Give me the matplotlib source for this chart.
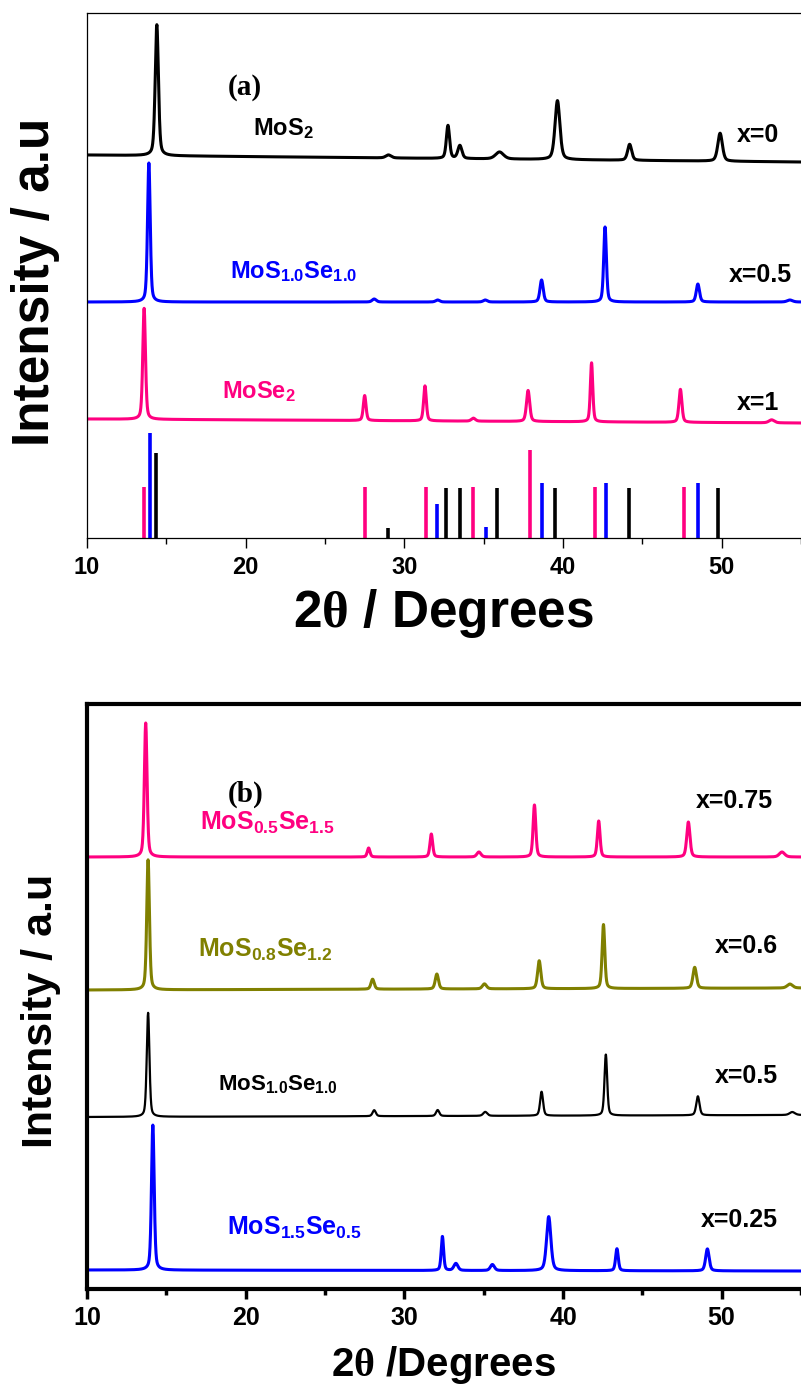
import matplotlib
matplotlib.use("Agg")
import matplotlib.pyplot as plt
import numpy as np
from matplotlib.ticker import MultipleLocator

plt.rcParams['font.family'] = ['Liberation Sans', 'DejaVu Sans']
plt.rcParams['font.weight'] = 'bold'
plt.rcParams['axes.labelweight'] = 'bold'
plt.rcParams['mathtext.fontset'] = 'custom'
plt.rcParams['mathtext.rm'] = 'Liberation Serif'
plt.rcParams['mathtext.bf'] = 'Liberation Sans:bold'
plt.rcParams['mathtext.it'] = 'Liberation Sans:italic:bold'

PINK = '#FF0080'
BLUE = '#0000FF'
OLIVE = '#808000'
BLACK = '#000000'

# ---- panel (a): measured patterns, (position, height, half width) ----
a_mos2_base = [383, 376]
a_mos2_peaks = [(14.4, 131, 0.12), (29.0, 3, 0.2), (32.75, 33, 0.12), (33.5, 13, 0.15),
                (36.0, 7, 0.3), (39.65, 59, 0.18), (44.2, 16, 0.15), (49.9, 28, 0.17)]
a_mosse_base = [236, 236]
a_mosse_peaks = [(13.9, 139, 0.1), (28.1, 3, 0.15), (32.1, 2, 0.15), (35.1, 2, 0.15),
                 (38.65, 22, 0.12), (42.65, 75, 0.1), (48.5, 18, 0.12), (54.3, 2, 0.2)]
a_mose2_base = [119, 115]
a_mose2_peaks = [(13.6, 111, 0.1), (27.5, 25, 0.1), (31.3, 35, 0.1), (34.35, 3, 0.15),
                 (37.8, 31, 0.12), (41.8, 59, 0.09), (47.4, 33, 0.11), (53.15, 3, 0.2)]

# reference stick patterns: positions and heights
ref_mose2_pos = [13.6, 27.5, 31.35, 34.3, 37.95, 42.0, 47.6]
ref_mose2_h = [51, 51, 51, 51, 88, 51, 51]
ref_mosse_pos = [14.0, 32.05, 35.15, 38.7, 42.7, 48.5]
ref_mosse_h = [105, 34, 11, 55, 55, 55]
ref_mos2_pos = [14.35, 29.0, 32.65, 33.5, 35.85, 39.5, 44.15, 49.8]
ref_mos2_h = [85, 10, 50, 50, 50, 50, 50, 50]

# ---- panel (b) ----
b_075_base = [432, 432]
b_075_peaks = [(13.7, 134, 0.1), (27.75, 9, 0.1), (31.7, 23, 0.1), (34.7, 5, 0.15),
               (38.2, 52, 0.1), (42.25, 36, 0.1), (47.9, 35, 0.12), (53.8, 5, 0.2)]
b_06_base = [299, 301]
b_06_peaks = [(13.85, 130, 0.1), (28.0, 10, 0.12), (32.05, 15, 0.12), (35.05, 5, 0.15),
              (38.5, 28, 0.12), (42.55, 64, 0.1), (48.3, 21, 0.13), (54.3, 4, 0.2)]
b_05_base = [172, 174]
b_05_peaks = [(13.85, 104, 0.1), (28.1, 6, 0.12), (32.1, 6, 0.12), (35.1, 4, 0.15),
              (38.65, 24, 0.11), (42.7, 61, 0.1), (48.5, 19, 0.12), (54.45, 3, 0.2)]
b_025_base = [19, 18]
b_025_peaks = [(14.15, 145, 0.1), (32.4, 34, 0.09), (33.25, 7, 0.15), (35.55, 6, 0.15),
               (39.1, 54, 0.16), (43.4, 22, 0.1), (49.1, 22, 0.13)]

two_theta = np.linspace(10, 55, 4501)


def pattern(base, peaks):
    # pseudo-Voigt peaks on a straight background
    y = np.interp(two_theta, [10, 55], base)
    for pos, h, w in peaks:
        lor = w ** 2 / ((two_theta - pos) ** 2 + w ** 2)
        gau = np.exp(-np.log(2) * ((two_theta - pos) / w) ** 2)
        y = y + h * (0.4 * lor + 0.6 * gau)
    return y


fig = plt.figure(figsize=(8.01, 13.91), dpi=100)
H = 1391.0
W = 801.0
ax_a = fig.add_axes([87 / W, 1 - 538 / H, 1 - 87 / W, 525 / H])
ax_b = fig.add_axes([87 / W, 1 - 1289 / H, 1 - 87 / W, 585 / H])

# panel (a)
ax_a.plot(two_theta, pattern(a_mos2_base, a_mos2_peaks), color=BLACK, lw=2.2)
ax_a.plot(two_theta, pattern(a_mosse_base, a_mosse_peaks), color=BLUE, lw=2.2)
ax_a.plot(two_theta, pattern(a_mose2_base, a_mose2_peaks), color=PINK, lw=2.2)
ax_a.vlines(ref_mose2_pos, 0, ref_mose2_h, color=PINK, lw=2.6)
ax_a.vlines(ref_mosse_pos, 0, ref_mosse_h, color=BLUE, lw=2.6)
ax_a.vlines(ref_mos2_pos, 0, ref_mos2_h, color=BLACK, lw=2.6)
ax_a.set_ylim(0, 525)

ax_a.text(18.87, 443, '(a)', family='Liberation Serif', fontweight='bold', fontsize=21)
ax_a.text(20.44, 403, r'$\mathbf{MoS_2}$', fontsize=17, color=BLACK)
ax_a.text(19.0, 260, r'$\mathbf{MoS_{1.0}Se_{1.0}}$', fontsize=17, color=BLUE)
ax_a.text(18.5, 140, r'$\mathbf{MoSe_2}$', fontsize=17, color=PINK)
ax_a.text(50.94, 396, 'x=0', fontsize=18)
ax_a.text(50.44, 256, 'x=0.5', fontsize=18)
ax_a.text(50.94, 128, 'x=1', fontsize=18)

ax_a.set_xlabel(r'2$\mathrm{\theta}$ / Degrees', fontsize=37, fontweight='bold', va='center')
ax_a.xaxis.set_label_coords(0.4986, -0.143)
ax_a.set_ylabel('Intensity / a.u', fontsize=37, fontweight='bold', va='center', ha='center')
ax_a.yaxis.set_label_coords(-0.0728, 0.488)

# panel (b)
ax_b.plot(two_theta, pattern(b_075_base, b_075_peaks), color=PINK, lw=2.2)
ax_b.plot(two_theta, pattern(b_06_base, b_06_peaks), color=OLIVE, lw=2.2)
ax_b.plot(two_theta, pattern(b_05_base, b_05_peaks), color=BLACK, lw=1.6)
ax_b.plot(two_theta, pattern(b_025_base, b_025_peaks), color=BLUE, lw=2.2)
ax_b.set_ylim(0, 585)

ax_b.text(18.87, 487, '(b)', family='Liberation Serif', fontweight='bold', fontsize=21)
ax_b.text(17.1, 459, r'$\mathbf{MoS_{0.5}Se_{1.5}}$', fontsize=18, color=PINK)
ax_b.text(16.98, 332, r'$\mathbf{MoS_{0.8}Se_{1.2}}$', fontsize=18, color=OLIVE)
ax_b.text(18.24, 199, r'$\mathbf{MoS_{1.0}Se_{1.0}}$', fontsize=16, color=BLACK)
ax_b.text(18.8, 54, r'$\mathbf{MoS_{1.5}Se_{0.5}}$', fontsize=18, color=BLUE)
ax_b.text(48.4, 481, 'x=0.75', fontsize=18)
ax_b.text(49.6, 336, 'x=0.6', fontsize=18)
ax_b.text(49.6, 206, 'x=0.5', fontsize=18)
ax_b.text(48.7, 62, 'x=0.25', fontsize=18)

ax_b.set_xlabel(r'2$\mathrm{\theta}$ /Degrees', fontsize=29, fontweight='bold', va='center')
ax_b.xaxis.set_label_coords(0.4993, -0.13)
ax_b.set_ylabel('Intensity / a.u', fontsize=31, fontweight='bold', va='center', ha='center')
ax_b.yaxis.set_label_coords(-0.0644, 0.475)

for ax, spw, tw in [(ax_a, 0.9, 1.0), (ax_b, 3.0, 2.5)]:
    ax.set_xlim(10, 55)
    ax.xaxis.set_major_locator(MultipleLocator(10))
    ax.xaxis.set_minor_locator(MultipleLocator(5))
    ax.set_yticks([])
    ax.spines['right'].set_visible(False)
    for s in ['left', 'top', 'bottom']:
        ax.spines[s].set_linewidth(spw)
    ax.tick_params(axis='x', which='major', direction='out', length=7, width=tw,
                   labelsize=17, pad=6)
    ax.tick_params(axis='x', which='minor', direction='out', length=4, width=tw)
    for lab in ax.get_xticklabels():
        lab.set_fontweight('bold')

ax_b.tick_params(axis='x', which='major', labelsize=18, pad=5)

fig.savefig('out.png', dpi=100)
